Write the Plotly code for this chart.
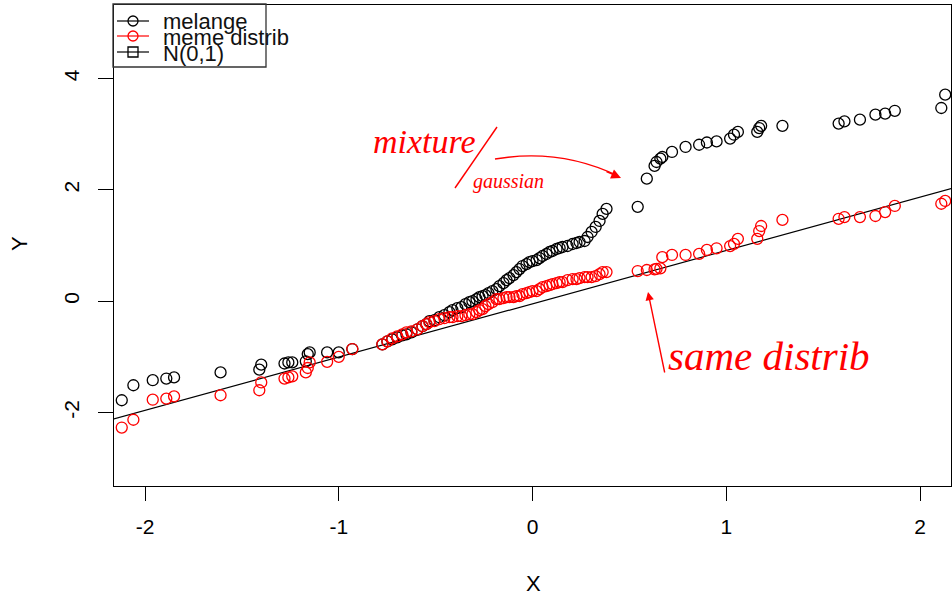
import plotly.graph_objects as go

# ---------------- data ----------------
x_vals = [-2.12, -2.06, -1.96, -1.89, -1.85, -1.61, -1.41, -1.40, -1.28, -1.26, -1.24, -1.17, -1.16, -1.15,
          -1.06, -1.00, -0.93,
          -0.775, -0.749, -0.724, -0.698, -0.672, -0.651, -0.625, -0.594, -0.568, -0.548, -0.532, -0.506,
          -0.481, -0.455, -0.429, -0.413, -0.388, -0.367, -0.346, -0.326, -0.310, -0.289, -0.274, -0.258,
          -0.243, -0.227, -0.207, -0.186, -0.171, -0.150, -0.134, -0.119, -0.098, -0.083, -0.067, -0.052,
          -0.031, -0.016, 0.000, 0.021, 0.036, 0.052, 0.072, 0.088, 0.103, 0.124, 0.140, 0.155, 0.181,
          0.207, 0.227, 0.243, 0.269, 0.284, 0.305, 0.326, 0.346, 0.362, 0.382, 0.543,
          0.59, 0.63, 0.64, 0.66, 0.67, 0.72, 0.79, 0.86, 0.90, 0.95, 1.02, 1.04, 1.06, 1.16, 1.17, 1.18,
          1.29, 1.58, 1.61, 1.69, 1.77, 1.82, 1.87, 2.11, 2.13]

melange = [-1.78, -1.51, -1.42, -1.39, -1.37, -1.28, -1.23, -1.14, -1.12, -1.10, -1.10, -1.08, -0.95, -0.92,
           -0.92, -0.92, -0.86,
           -0.775, -0.721, -0.685, -0.649, -0.613, -0.595, -0.559, -0.505, -0.450, -0.414, -0.360, -0.342,
           -0.288, -0.252, -0.198, -0.162, -0.126, -0.108, -0.054, -0.018, 0.000, 0.036, 0.072, 0.090,
           0.108, 0.144, 0.180, 0.216, 0.270, 0.324, 0.378, 0.414, 0.468, 0.523, 0.577, 0.631,
           0.667, 0.703, 0.721, 0.739, 0.775, 0.811, 0.847, 0.883, 0.901, 0.937, 0.955, 0.973, 0.991,
           1.027, 1.045, 1.063, 1.081, 1.153, 1.243, 1.333, 1.441, 1.568, 1.658, 1.694,
           2.20, 2.43, 2.50, 2.56, 2.59, 2.68, 2.77, 2.81, 2.85, 2.87, 2.92, 2.99, 3.04, 3.04, 3.11, 3.15,
           3.15, 3.19, 3.23, 3.26, 3.35, 3.37, 3.42, 3.47, 3.71]

meme_distrib = [-2.27, -2.13, -1.77, -1.75, -1.71, -1.69, -1.60, -1.46, -1.39, -1.37, -1.35, -1.28, -1.20,
                -1.10, -1.09, -1.00, -0.86,
                -0.775, -0.721, -0.667, -0.631, -0.595, -0.559, -0.541, -0.505, -0.450, -0.414, -0.378,
                -0.360, -0.324, -0.306, -0.288, -0.288, -0.270, -0.270, -0.252, -0.234, -0.234, -0.198,
                -0.162, -0.144, -0.090, -0.054, -0.018, 0.036, 0.036, 0.054, 0.072, 0.072, 0.072, 0.090,
                0.090, 0.126, 0.144, 0.162, 0.180, 0.180, 0.216, 0.252, 0.270, 0.288, 0.306, 0.324, 0.342,
                0.342, 0.378, 0.396, 0.396, 0.414, 0.432, 0.432, 0.432, 0.450, 0.486, 0.523, 0.523, 0.541,
                0.56, 0.57, 0.58, 0.59, 0.79, 0.83, 0.83, 0.85, 0.92, 0.95, 0.99, 1.03, 1.12, 1.12, 1.26,
                1.35, 1.46, 1.48, 1.51, 1.51, 1.53, 1.60, 1.71, 1.75, 1.80]

# reference line N(0,1) (intercept / slope)
ref_intercept = -0.047
ref_slope = 0.958
ref_x = [-2.5, 2.5]

x_tick_vals = [-2, -1, 0, 1, 2]
x_tick_text = ["-2", "-1", "0", "1", "2"]
y_tick_vals = [-2, 0, 2, 4]
y_tick_text = ["-2", "0", "2", "4"]

legend_names = ["melange", "meme distrib", "N(0,1)"]

# ---------------- layout geometry (pixels) ----------------
W, H = 952, 599
PL, PR, PT, PB = 114, 951, 5, 486
FONT = "Liberation Sans, Arial, Helvetica, sans-serif"
HAND = "Liberation Serif, DejaVu Serif, serif"
RED = "#FF0000"


def px(xp):
    return (xp - PL) / (PR - PL)


def py(yp):
    return (PB - yp) / (PB - PT)


fig = go.Figure()

ref_y = [ref_intercept + ref_slope * v for v in ref_x]
fig.add_trace(go.Scatter(x=ref_x, y=ref_y, mode="lines",
                         line=dict(color="black", width=1.2), showlegend=False, hoverinfo="skip"))
fig.add_trace(go.Scatter(x=x_vals, y=melange, mode="markers", name=legend_names[0],
                         marker=dict(symbol="circle-open", size=11, color="black", line=dict(width=1.3)),
                         showlegend=False))
fig.add_trace(go.Scatter(x=x_vals, y=meme_distrib, mode="markers", name=legend_names[1],
                         marker=dict(symbol="circle-open", size=11, color=RED, line=dict(width=1.3)),
                         showlegend=False))

# --- manual legend (R style), drawn on an overlay axis in paper-like units ---
leg_rows = [21, 36, 52]
leg_syms = ["circle-open", "circle-open", "square-open"]
leg_cols = ["black", RED, "black"]
for r, s, c in zip(leg_rows, leg_syms, leg_cols):
    fig.add_trace(go.Scatter(x=[px(133)], y=[py(r)], xaxis="x2", yaxis="y2", mode="markers",
                             marker=dict(symbol=s, size=10, color=c, line=dict(width=1.3)),
                             showlegend=False, hoverinfo="skip", cliponaxis=False))

shapes = [dict(type="rect", xref="paper", yref="paper", x0=px(113), x1=px(266), y0=py(67), y1=py(4),
               line=dict(color="#333", width=1.3), fillcolor="rgba(0,0,0,0)")]
for r, c in zip(leg_rows, leg_cols):
    shapes.append(dict(type="line", xref="paper", yref="paper", x0=px(117), x1=px(149), y0=py(r), y1=py(r),
                       line=dict(color=c, width=1.2)))

annotations = []
for r, name in zip(leg_rows, legend_names):
    annotations.append(dict(x=px(161), y=py(r + 1), xref="paper", yref="paper", text=name, showarrow=False,
                            xanchor="left", yanchor="middle", font=dict(family=FONT, size=22, color="#111")))

# axis titles
annotations.append(dict(x=px(533), y=py(583), xref="paper", yref="paper", text="X", showarrow=False,
                        xanchor="center", yanchor="middle", font=dict(family=FONT, size=22, color="black")))
annotations.append(dict(x=px(19), y=py(244), xref="paper", yref="paper", text="Y", showarrow=False,
                        textangle=-90, xanchor="center", yanchor="middle",
                        font=dict(family=FONT, size=22, color="black")))

# --- hand-written red notes ---
annotations.append(dict(x=px(424), y=py(142), xref="paper", yref="paper", text="mixture", showarrow=False,
                        xanchor="center", yanchor="middle",
                        font=dict(family=HAND, size=34, color=RED, style="italic")))
annotations.append(dict(x=px(508), y=py(181), xref="paper", yref="paper", text="gaussian", showarrow=False,
                        xanchor="center", yanchor="middle",
                        font=dict(family=HAND, size=20, color=RED, style="italic")))
annotations.append(dict(x=px(666), y=py(356), xref="paper", yref="paper", text="same distrib",
                        showarrow=False, xanchor="left", yanchor="middle",
                        font=dict(family=HAND, size=41, color=RED, style="italic")))
# slash
shapes.append(dict(type="line", xref="paper", yref="paper", x0=px(455), y0=py(188), x1=px(497), y1=py(127),
                   line=dict(color=RED, width=1.4)))
# curved arrow
shapes.append(dict(type="path", xref="paper", yref="paper",
                   path=f"M {px(495)} {py(159)} Q {px(560)} {py(148)} {px(618)} {py(176)}",
                   line=dict(color=RED, width=1.4)))
annotations.append(dict(x=px(621), y=py(178), xref="paper", yref="paper", ax=-16, ay=-7, text="",
                        showarrow=True, arrowhead=2, arrowsize=1.4, arrowwidth=1.4, arrowcolor=RED,
                        standoff=0))
# vertical arrow
annotations.append(dict(x=px(648), y=py(292), xref="paper", yref="paper", ax=17, ay=82, text="",
                        showarrow=True, arrowhead=2, arrowsize=1.2, arrowwidth=1.4, arrowcolor=RED,
                        standoff=0))

fig.update_layout(
    width=W, height=H,
    margin=dict(l=PL, r=W - PR, t=PT, b=H - PB, pad=0),
    paper_bgcolor="white", plot_bgcolor="white",
    showlegend=False,
    font=dict(family=FONT, size=21, color="black"),
    shapes=shapes, annotations=annotations,
    xaxis=dict(range=[-2.16, 2.16], tickvals=x_tick_vals, ticktext=x_tick_text, showgrid=False,
               zeroline=False, showline=True, mirror=True, linecolor="black", linewidth=1.4,
               ticks="outside", ticklen=14, tickwidth=1.3, tickcolor="black",
               ticklabelstandoff=8, tickfont=dict(family=FONT, size=21, color="black")),
    yaxis=dict(range=[-3.32, 5.32], tickvals=y_tick_vals, ticktext=y_tick_text, showgrid=False,
               zeroline=False, showline=True, mirror=True, linecolor="black", linewidth=1.4,
               ticks="outside", ticklen=15, tickwidth=1.3, tickcolor="black", tickangle=-90,
               ticklabelstandoff=10, tickfont=dict(family=FONT, size=21, color="black")),
    xaxis2=dict(range=[0, 1], overlaying="x", visible=False, fixedrange=True),
    yaxis2=dict(range=[0, 1], overlaying="y", visible=False, fixedrange=True),
)

fig.write_html("out.html")
